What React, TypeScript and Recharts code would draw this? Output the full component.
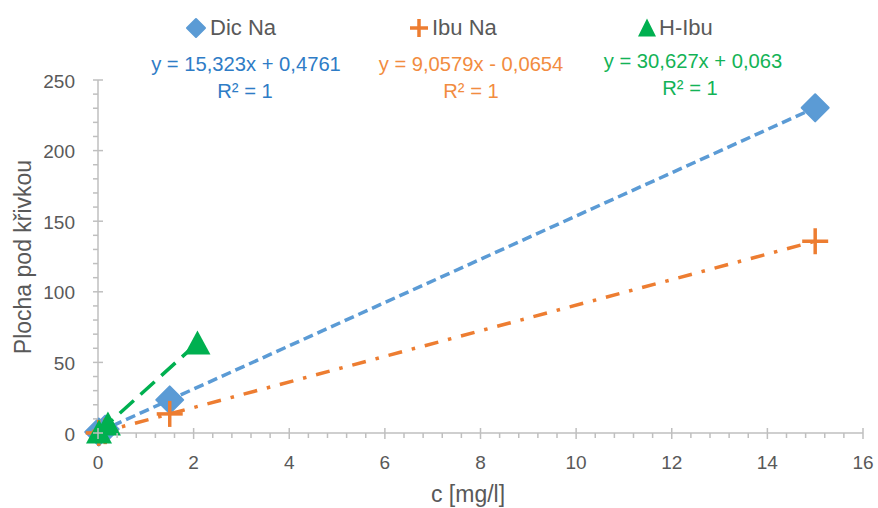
import React from 'react';
import { ScatterChart, Scatter, XAxis, YAxis } from 'recharts';

// ---- data ----
const dicNa = [
  { c: 0.015, a: 0.71 },
  { c: 0.15, a: 2.77 },
  { c: 1.5, a: 23.46 },
  { c: 15, a: 230.3 },
];
const ibuNa = [
  { c: 0.015, a: 0.07 },
  { c: 0.15, a: 1.29 },
  { c: 1.5, a: 13.52 },
  { c: 15, a: 135.8 },
];
const hIbu = [
  { c: 0.0208, a: 0.7 },
  { c: 0.208, a: 6.43 },
  { c: 2.08, a: 63.77 },
];
const seriesNames = ['Dic Na', 'Ibu Na', 'H-Ibu'];
const equations = ['y = 15,323x + 0,4761', 'y = 9,0579x - 0,0654', 'y = 30,627x + 0,063'];
const rSquared = ['R² = 1', 'R² = 1', 'R² = 1'];
const xMajorTicks = [0, 2, 4, 6, 8, 10, 12, 14, 16];
const yMajorTicks = [0, 50, 100, 150, 200, 250];
const xMinorStep = 0.4;
const yMinorStep = 10;

const xTicks: number[] = [];
for (let i = 0; i <= Math.round(16 / xMinorStep); i++) xTicks.push(+(i * xMinorStep).toFixed(4));
const yTicks: number[] = [];
for (let i = 0; i <= Math.round(250 / yMinorStep); i++) yTicks.push(i * yMinorStep);

const FONT = "'Liberation Sans', Arial, sans-serif";
const AXIS = '#BFBFBF';
const TXT = '#595959';
const BLUE = '#5B9BD5';
const ORANGE = '#ED7D31';
const GREEN = '#00B050';

const isMajor = (v: number, list: number[]) => list.some((m) => Math.abs(m - v) < 1e-6);

const XTick = (props: any) => {
  const { x, y, payload } = props;
  const v = payload.value;
  if (isMajor(v, xMajorTicks)) {
    return (
      <g>
        <line x1={x} x2={x} y1={y - 5} y2={y + 6} stroke={AXIS} strokeWidth={1.5} />
        <text x={x} y={y + 36} textAnchor="middle" fill={TXT} fontSize={19} fontFamily={FONT}>
          {String(Math.round(v))}
        </text>
      </g>
    );
  }
  return <line x1={x} x2={x} y1={y} y2={y + 5} stroke={AXIS} strokeWidth={1.5} />;
};

const YTick = (props: any) => {
  const { x, y, payload } = props;
  const v = payload.value;
  if (isMajor(v, yMajorTicks)) {
    return (
      <g>
        <line x1={x - 5} x2={x + 5} y1={y} y2={y} stroke={AXIS} strokeWidth={1.5} />
        <text x={x - 23} y={y + 7.5} textAnchor="end" fill={TXT} fontSize={19} fontFamily={FONT}>
          {String(v)}
        </text>
      </g>
    );
  }
  return <line x1={x - 5} x2={x} y1={y} y2={y} stroke={AXIS} strokeWidth={1.5} />;
};

const Diamond = ({ cx, cy, r = 13.5, fill = BLUE }: any) => (
  <path
    d={`M${cx},${cy - r} L${cx + r},${cy} L${cx},${cy + r} L${cx - r},${cy} Z`}
    fill={fill}
    stroke={fill}
    strokeWidth={2}
    strokeLinejoin="round"
  />
);
const Plus = ({ cx, cy, r = 13, stroke = ORANGE, w = 3.5 }: any) => (
  <g>
    <line x1={cx - r} x2={cx + r} y1={cy} y2={cy} stroke={stroke} strokeWidth={w} />
    <line x1={cx} x2={cx} y1={cy - r} y2={cy + r} stroke={stroke} strokeWidth={w} />
  </g>
);
const Triangle = ({ cx, cy, w = 26, h = 23, fill = GREEN }: any) => (
  <path
    d={`M${cx},${cy - h / 2 - 1} L${cx + w / 2},${cy + h / 2} L${cx - w / 2},${cy + h / 2} Z`}
    fill={fill}
  />
);

export default function App() {
  return (
    <div style={{ position: 'absolute', left: 0, top: 0, width: 878, height: 508, background: '#fff' }}>
      <ScatterChart width={878} height={508} margin={{ top: 80, right: 15, bottom: 0, left: 0 }}>
        <XAxis
          type="number"
          dataKey="c"
          domain={[0, 16]}
          ticks={xTicks}
          interval={0}
          tick={<XTick />}
          tickLine={false}
          tickSize={0}
          tickMargin={0}
          height={75}
          axisLine={{ stroke: AXIS, strokeWidth: 1.5 }}
        />
        <YAxis
          type="number"
          dataKey="a"
          domain={[0, 250]}
          ticks={yTicks}
          interval={0}
          tick={<YTick />}
          tickLine={false}
          tickSize={0}
          tickMargin={0}
          width={98}
          axisLine={{ stroke: AXIS, strokeWidth: 1.5 }}
        />
        <Scatter
          name={seriesNames[0]}
          data={dicNa}
          fill={BLUE}
          isAnimationActive={false}
          line={{ stroke: BLUE, strokeWidth: 3.5, strokeDasharray: '10 5' }}
          lineType="joint"
          shape={(p: any) => <Diamond cx={p.cx} cy={p.cy} />}
        />
        <Scatter
          name={seriesNames[1]}
          data={ibuNa}
          fill={ORANGE}
          isAnimationActive={false}
          line={{ stroke: ORANGE, strokeWidth: 3.5, strokeDasharray: '14 10 3.5 10' }}
          lineType="joint"
          shape={(p: any) => <Plus cx={p.cx} cy={p.cy} />}
        />
        <Scatter
          name={seriesNames[2]}
          data={hIbu}
          fill={GREEN}
          isAnimationActive={false}
          line={{ stroke: GREEN, strokeWidth: 3.5, strokeDasharray: '19 9' }}
          lineType="joint"
          shape={(p: any) => <Triangle cx={p.cx} cy={p.cy} />}
        />
      </ScatterChart>
      <svg
        width={878}
        height={508}
        style={{ position: 'absolute', left: 0, top: 0, pointerEvents: 'none' }}
        fontFamily={FONT}
      >
        {/* legend */}
        <Diamond cx={196} cy={28} r={9} />
        <text x={210} y={35} fontSize={22} fill={TXT}>{seriesNames[0]}</text>
        <Plus cx={419} cy={28} r={9} w={3.5} />
        <text x={432} y={35} fontSize={22} fill={TXT}>{seriesNames[1]}</text>
        <Triangle cx={647} cy={28} w={18} h={17} />
        <text x={659} y={35} fontSize={22} fill={TXT}>{seriesNames[2]}</text>
        {/* trendline labels */}
        <text x={246} y={71} fontSize={20.2} fill="#2E7CC6" textAnchor="middle">{equations[0]}</text>
        <text x={245} y={98} fontSize={20.2} fill="#2E7CC6" textAnchor="middle">{rSquared[0]}</text>
        <text x={471} y={71} fontSize={20.2} fill="#F28C3F" textAnchor="middle">{equations[1]}</text>
        <text x={471} y={98} fontSize={20.2} fill="#F28C3F" textAnchor="middle">{rSquared[1]}</text>
        <text x={693} y={68} fontSize={20.2} fill="#13B356" textAnchor="middle">{equations[2]}</text>
        <text x={690} y={95} fontSize={20.2} fill="#13B356" textAnchor="middle">{rSquared[2]}</text>
        {/* axis titles */}
        <text x={468} y={502} fontSize={23} fill={TXT} textAnchor="middle">c [mg/l]</text>
        <text
          x={23}
          y={257}
          fontSize={23}
          fill={TXT}
          textAnchor="middle"
          dominantBaseline="central"
          transform="rotate(-90 23 257)"
        >
          Plocha pod křivkou
        </text>
      </svg>
    </div>
  );
}
